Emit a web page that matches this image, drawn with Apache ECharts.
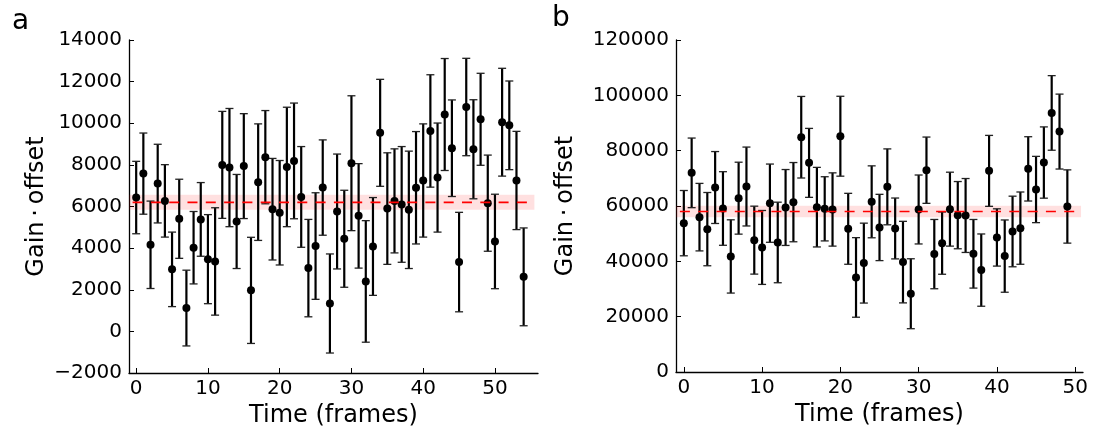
<!DOCTYPE html>
<html>
<head>
<meta charset="utf-8">
<script src="https://cdn.jsdelivr.net/npm/echarts@6/dist/echarts.min.js"></script>
<style>
  html, body { margin: 0; padding: 0; background: #fff; }
  #main { width: 1093px; height: 434px; }
</style>
</head>
<body>
<div id="main"></div>
<script>
// panel a: gain*offset per frame, with symmetric error
const valsA = [6430, 7580, 4160, 7100, 6270, 2980, 5410, 1120, 4020, 5380,
  3470, 3360, 8000, 7870, 5280, 7940, 1970, 7170, 8370, 5870,
  5700, 7900, 8190, 6460, 3040, 4100, 6910, 1340, 5760, 4450,
  8080, 5550, 2400, 4080, 9540, 5900, 6270, 6100, 5840, 6900,
  7250, 9630, 7390, 10420, 8800, 3330, 10780, 8750, 10190, 6160,
  4320, 10050, 9900, 7250, 2620];
const errA = [1740, 1950, 2100, 1890, 1740, 1790, 1900, 1820, 1740, 1770,
  2140, 2580, 2570, 2840, 2260, 2520, 2550, 2800, 2240, 2440,
  2510, 2870, 2780, 2420, 2340, 2560, 2290, 2380, 2760, 2330,
  3240, 2510, 2920, 2350, 2570, 2680, 2500, 2780, 2820, 2700,
  2720, 2700, 2620, 2690, 2320, 2390, 2340, 2380, 2210, 2310,
  2270, 2590, 2130, 2360, 2350];
const meanA = 6200, bandA = 360;

// panel b
const valsB = [53800, 71980, 55970, 51640, 66680, 59100, 41770, 62830, 67040, 47660,
  45020, 61020, 46820, 59460, 61390, 84860, 75590, 59580, 58980, 58740,
  85220, 51760, 34180, 39360, 61510, 52240, 66920, 51880, 39720, 28290,
  58740, 72940, 42610, 46580, 58860, 56690, 56570, 42730, 36830, 72700,
  48630, 41890, 50790, 52000, 73420, 65960, 75710, 93640, 86900, 59820];
const errB = [11800, 12580, 12200, 13240, 13000, 13300, 13240, 13000, 14260, 12280,
  13360, 14140, 14560, 13720, 14320, 14740, 12460, 14380, 11600, 13240,
  14440, 12820, 14380, 14440, 13000, 11980, 13720, 11000, 14740, 12640,
  12460, 11980, 12520, 11250, 13360, 12150, 13360, 12400, 13060, 12820,
  10350, 13060, 12760, 13060, 11620, 11980, 12880, 13480, 13540, 13240];
const meanB = 58000, bandB = 2100;

const xTicks = [0, 10, 20, 30, 40, 50];
const FONT = 'DejaVu Sans';

function errBar(params, api) {
  const x = api.value(0), y = api.value(1), e = api.value(2);
  const top = api.coord([x, y + e]);
  const bot = api.coord([x, y - e]);
  const cap = 4;
  return {
    type: 'group',
    children: [
      { type: 'line', shape: { x1: top[0], y1: top[1], x2: bot[0], y2: bot[1] }, style: { stroke: '#000', lineWidth: 2.2 } },
      { type: 'line', shape: { x1: top[0] - cap, y1: top[1], x2: top[0] + cap, y2: top[1] }, style: { stroke: '#222', lineWidth: 1.3 } },
      { type: 'line', shape: { x1: bot[0] - cap, y1: bot[1], x2: bot[0] + cap, y2: bot[1] }, style: { stroke: '#222', lineWidth: 1.3 } }
    ]
  };
}

function band(params, api) {
  const p0 = api.coord([api.value(0), api.value(3)]);
  const p1 = api.coord([api.value(1), api.value(2)]);
  return {
    type: 'rect',
    shape: { x: p0[0], y: p0[1], width: p1[0] - p0[0], height: p1[1] - p0[1] },
    style: { fill: 'rgba(255,0,0,0.12)' }
  };
}

function xAxisOf(idx, max) {
  return {
    gridIndex: idx, type: 'value', min: -1, max: max,
    name: 'Time (frames)', nameLocation: 'middle', nameGap: 27,
    nameTextStyle: { fontFamily: FONT, fontSize: 24, color: '#000' },
    axisLine: { onZero: false, lineStyle: { color: '#000', width: 1.3 } },
    axisTick: { inside: true, length: 5, customValues: xTicks, lineStyle: { color: '#000' } },
    axisLabel: { customValues: xTicks, margin: 6, fontFamily: FONT, fontSize: 20, color: '#000' },
    splitLine: { show: false }
  };
}

function yAxisOf(idx, min, max, step, gap) {
  return {
    gridIndex: idx, type: 'value', min: min, max: max, interval: step,
    name: 'Gain\u2009\u00b7\u2009offset', nameLocation: 'middle', nameRotate: 90, nameGap: gap,
    nameTextStyle: { fontFamily: FONT, fontSize: 24, color: '#000' },
    axisLine: { show: true, onZero: false, lineStyle: { color: '#000', width: 1.3 } },
    axisTick: { show: true, inside: true, length: 5, lineStyle: { color: '#000' } },
    axisLabel: {
      margin: 7, fontFamily: FONT, fontSize: 20, color: '#000',
      formatter: v => (v < 0 ? '\u2212' + Math.abs(v) : String(v))
    },
    splitLine: { show: false }
  };
}

function panelSeries(idx, vals, errs, mean, bw, lineEnd, bandEnd) {
  return [
    {
      type: 'custom', xAxisIndex: idx, yAxisIndex: idx, renderItem: band, silent: true,
      data: [[-1, bandEnd, mean - bw, mean + bw]], encode: { x: [0, 1], y: [2, 3] }
    },
    {
      type: 'line', xAxisIndex: idx, yAxisIndex: idx, symbol: 'none', silent: true,
      data: [[-0.5, mean], [lineEnd, mean]],
      lineStyle: { color: '#ff0000', width: 1.6, type: [10, 8.3] }
    },
    {
      type: 'custom', xAxisIndex: idx, yAxisIndex: idx, renderItem: errBar,
      data: vals.map((v, i) => [i, v, errs[i]]), encode: { x: 0, y: 1 }
    },
    {
      type: 'scatter', xAxisIndex: idx, yAxisIndex: idx, symbolSize: 8,
      itemStyle: { color: '#000', opacity: 1 },
      data: vals.map((v, i) => [i, v])
    }
  ];
}

const chart = echarts.init(document.getElementById('main'), null, { renderer: 'canvas' });
chart.setOption({
  animation: false,
  backgroundColor: '#fff',
  grid: [
    { left: 129, top: 40, width: 409, height: 333 },
    { left: 676, top: 40, width: 407, height: 332 }
  ],
  xAxis: [xAxisOf(0, 56), xAxisOf(1, 51)],
  yAxis: [yAxisOf(0, -2000, 14000, 2000, 80), yAxisOf(1, 0, 120000, 20000, 98)],
  graphic: [
    { type: 'text', left: 12, top: 8, style: { text: 'a', font: '28px "DejaVu Sans"', fill: '#000' } },
    { type: 'text', left: 552, top: 5, style: { text: 'b', font: '28px "DejaVu Sans"', fill: '#000' } }
  ],
  series: [].concat(
    panelSeries(0, valsA, errA, meanA, bandA, 55, 55.5),
    panelSeries(1, valsB, errB, meanB, bandB, 50, 50.75)
  )
});
</script>
</body>
</html>
